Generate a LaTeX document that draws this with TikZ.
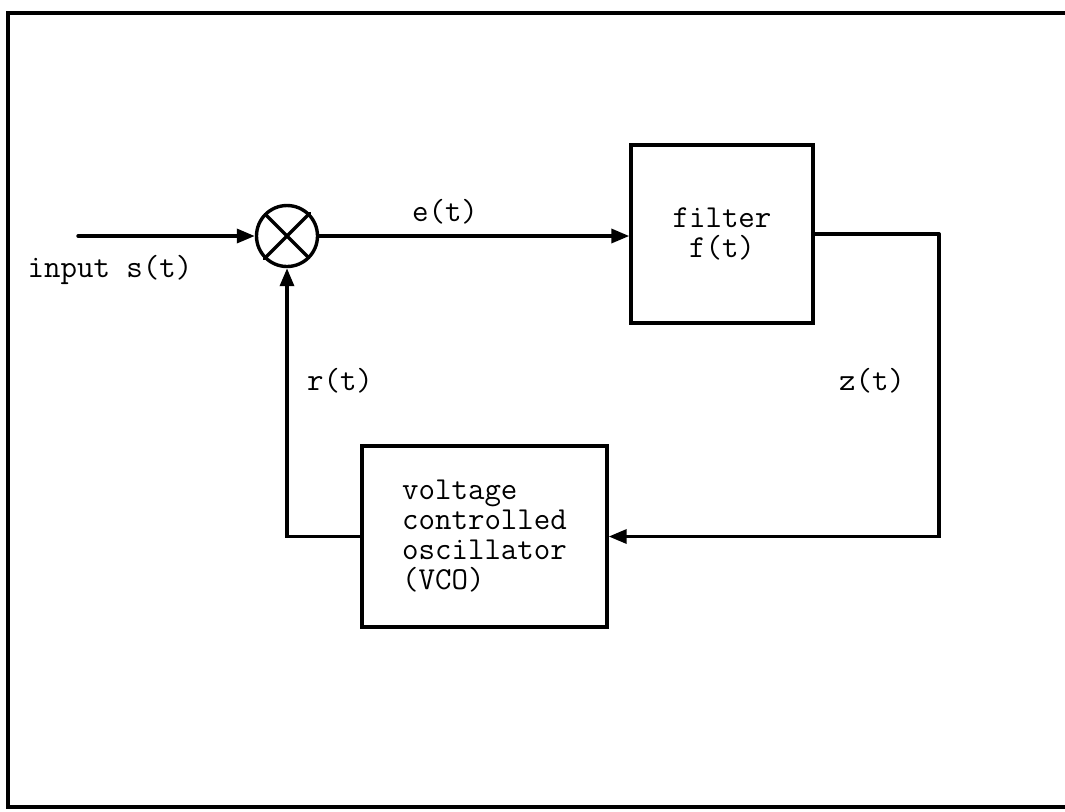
\documentclass[tikz,border=0pt]{standalone}
\usetikzlibrary{arrows.meta,positioning}
\tikzset{
 pll/.style={font=\ttfamily\fontsize{16}{15}\selectfont,line width=1.7pt,line cap=round,line join=miter},
 block/.style={rectangle,draw=black,line width=1.7pt,inner sep=0pt,align=left},
 mixer/.style={circle,draw=black,line width=1.7pt,inner sep=0pt,minimum size=30.5pt},
 sig/.style={draw=black,line width=1.7pt,-{Triangle[length=9pt,width=7pt]}},
 wire/.style={draw=black,line width=1.7pt},
 siglabel/.style={inner sep=0pt}
}
\begin{document}
\begin{tikzpicture}[pll,x=0.5pt,y=-0.5pt]
 \useasboundingbox (0,0) rectangle (1065,811);
 % frame
 \draw[wire] (1070,13) -- (8,13) -- (8,807) -- (1070,807);
 % blocks
 \node[mixer] (mix) at (287,236) {};
 \draw[wire,shorten <=0.8pt,shorten >=0.8pt] (mix.45) -- (mix.225) (mix.135) -- (mix.315);
 \node[block,minimum width=91pt,minimum height=89pt,align=center] (filt) at (722,234) {filter\\f(t)};
 \node[block,minimum width=122.5pt,minimum height=90.5pt] (vco) at (484.5,536.5)
   {voltage\\controlled\\oscillator\\(VCO)};
 \coordinate (in) at (78,236);
 \coordinate (zr) at (939,234);
 % connectors
 \draw[sig] (in) -- (mix.west);
 \draw[sig] (mix.east) -- (mix.east -| filt.west);
 \draw[wire] (filt.east) -- (zr);
 \draw[sig] (zr) |- (vco.east);
 \draw[sig] (vco.west) -| (mix.south);
 % labels
 \node[siglabel] (lin) at (110,270) {input s(t)};
 \node[siglabel] (le) at (445,212) {e(t)};
 \node[siglabel] (lr) at (340,381) {r(t)};
 \node[siglabel] (lz) at (872,381) {z(t)};
\end{tikzpicture}
\end{document}
